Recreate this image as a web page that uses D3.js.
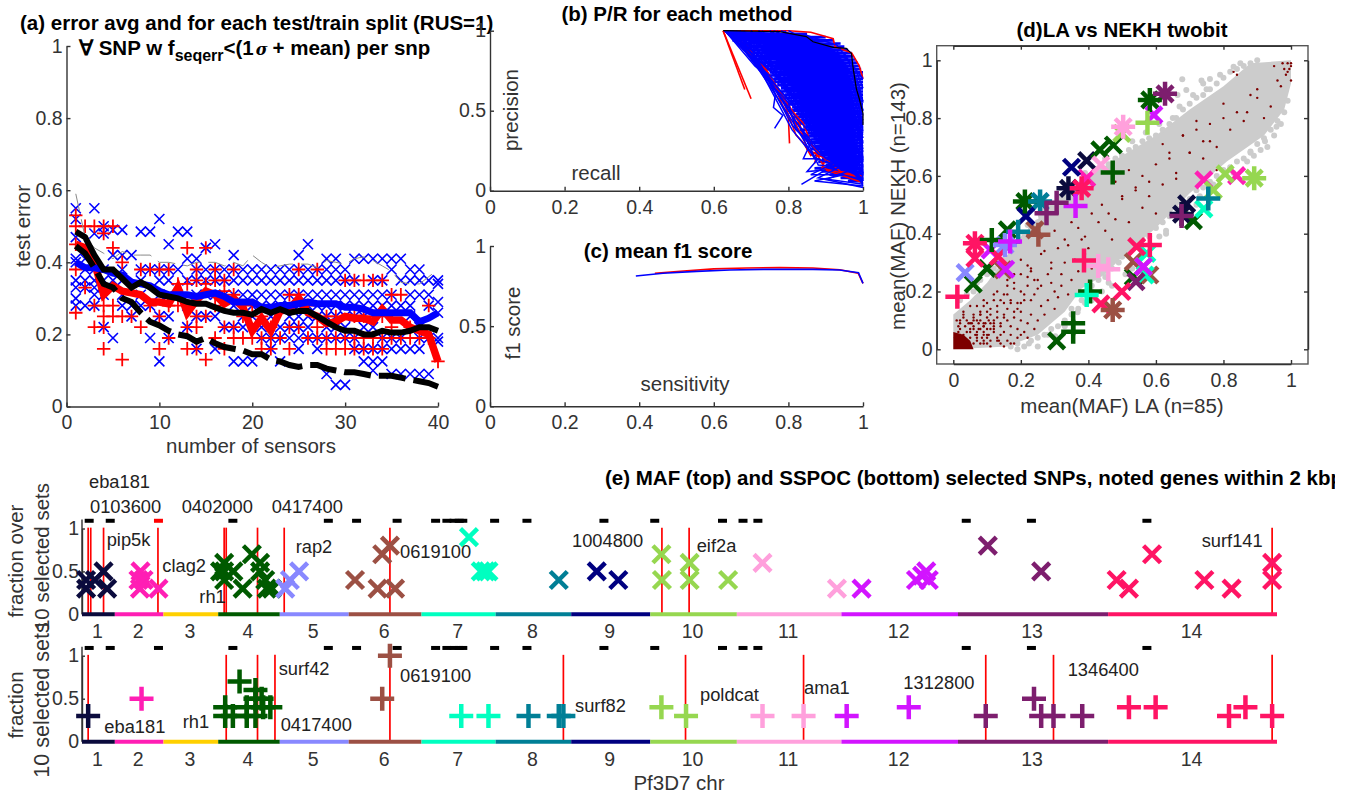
<!DOCTYPE html>
<html>
<head>
<meta charset="utf-8">
<script src="https://cdnjs.cloudflare.com/ajax/libs/d3/7.8.5/d3.min.js"></script>
<style>
body { margin: 0; background: #fff; }
text { font-family: "Liberation Sans", Arial, sans-serif; }
.tk text { font-size: 19.5px; fill: #333; }
.tk line, .tk path { stroke: #333; stroke-width: 1.4; }
</style>
</head>
<body>
<script>
///////////////////////////////////////////////////////////////////
// data

// (a) error per number of sensors, each row of a list is one sensor count
var nSensors = d3.range(1, 41);
var blueErr = [
[.55,.52,.47,.41,.40,.35,.33,.30,.28],[.41,.38,.35,.33,.28],[.55,.48,.38,.35,.33,.31,.28],[.5,.48,.38,.35,.31,.22],
[.49,.42,.35,.19],[.49,.42,.38,.35,.31,.28],[.42,.28,.25],[.485,.38,.35,.31,.28],[.485,.38,.28,.19],[.52,.38,.35,.31,.25,.125],
[.45,.38,.35,.31,.25,.19],[.485,.38,.31],[.485,.41,.35,.28,.22],[.41,.38,.35,.31,.25,.16],[.44,.38,.35,.31,.25],[.45,.38,.35,.31,.25,.16],
[.38,.35,.31,.22],[.42,.38,.35,.31,.28,.22,.125],[.38,.35,.31,.25,.22,.125],[.38,.35,.31,.28,.25,.125],[.38,.35,.31,.28,.22,.19],
[.38,.35,.31,.28,.25,.19,.16],[.38,.35,.31,.28,.22,.19,.125],[.38,.35,.31,.28,.25,.22,.19],[.42,.38,.35,.31,.28,.25,.22,.19,.16],
[.45,.38,.35,.31,.28,.25,.22,.19],[.38,.35,.31,.28,.25,.19,.16],[.41,.38,.35,.31,.28,.25,.22,.19,.09],[.41,.38,.35,.31,.28,.25,.22,.19,.06],
[.38,.35,.31,.28,.25,.22,.19,.06],[.41,.35,.31,.28,.25,.19,.16],[.41,.31,.28,.25,.22,.16,.125],[.41,.35,.31,.28,.22,.16,.125,.1],
[.41,.35,.31,.28,.19,.16,.125],[.41,.38,.31,.28,.19,.16,.09],[.41,.35,.28,.19,.16,.09],[.38,.35,.31,.28,.25,.16,.09],[.38,.35,.31,.22,.19,.16,.09],
[.35,.31,.28,.19,.09],[.35,.34,.29,.26,.19,.18]];
var redErr = [
[.53,.5,.45,.38,.26],[.5,.33],[.5,.28,.22],[.5,.48,.28,.25,.22,.16],[.5,.44,.28,.25],[.4,.25,.13],[.25],[.38,.22],[.38,.28],[.38,.25,.16],
[.38,.28,.19],[.34,.28],[.44,.34,.22,.16],[.38,.35,.25,.22,.16],[.44,.34,.25,.13],[.38,.35,.28,.19],[.35,.32,.22,.16],[.38,.31,.22,.19],[.25,.19],[.28,.19],
[.25,.19,.16],[.22,.19,.16],[.19],[.31,.22,.16],[.38,.31,.22],[.28,.19],[.38,.22,.19],[.25,.19,.16],[.25,.19,.16],[.35,.19,.16],
[.35,.25,.19,.16],[.35,.25,.19,.16],[.35,.25,.19,.16],[.35,.25,.19,.16],[.31,.22,.19],[.31,.19],[.22,.19],[.19],[.28,.19],[.125]];
var redMean = [.45,.44,.40,.31,.335,.32,.315,.31,.29,.29,.285,.33,.26,.295,.32,.31,.285,.30,.275,.21,.245,.21,.265,.27,.30,.26,.25,.23,.235,.25,.245,.245,.235,.27,.24,.24,.22,.21,.20,.125];
var blueMean = [.40,.385,.385,.38,.37,.365,.345,.34,.335,.32,.31,.31,.31,.305,.31,.315,.305,.29,.29,.29,.275,.275,.28,.28,.285,.29,.285,.285,.285,.275,.275,.27,.26,.26,.26,.26,.26,.235,.245,.26];
var blackMean = [.485,.47,.42,.38,.38,.355,.33,.345,.33,.31,.305,.30,.29,.285,.285,.275,.265,.26,.26,.255,.27,.26,.27,.26,.265,.265,.25,.235,.22,.21,.21,.20,.20,.21,.205,.205,.21,.22,.22,.21];
var blackDash = [.445,.425,.385,.34,.33,.30,.29,.26,.235,.225,.21,.20,.195,.18,.19,.175,.165,.16,.155,.145,.145,.13,.125,.115,.11,.115,.115,.105,.10,.095,.095,.09,.085,.085,.085,.08,.075,.07,.065,.055];
var grayTop = [.59,.47,.44,.425,.41,.43,.42,.42,.42,.40,.40,.395,.39,.40,.40,.40,.39,.40,.39,.42,.40,.385,.39,.395,.395,.395,.385,.405,.40,.395,.41,.415,.405,.39,.375,.345,.34,.34,.36,.38];

// (b) precision/recall curves, flat lists of recall,precision
var prRed = [
[.625,1,.683,.633],[.625,1,.70,.575],[.63,1,.75,.72,.80,.45,.803,.296],[.64,1,.78,.6,.82,.35,.84,.3,.86,.22,.88,.25,.87,.17],
[.64,1,.8,1,.86,.99,.92,.95,.925,.9,.97,.86,.99,.78,1,.7],[.66,1,.76,.68,.83,.42,.85,.26,.9,.2,.89,.14,1,.08],
[.65,1,.77,.65,.81,.5,.84,.42,.86,.3,.9,.13,1,.05],[.63,1,.74,.76,.79,.55,.83,.37,.88,.24,.94,.12,1,.09]];
var prFill = [.64,.98,.85,.98,.66,.96,.90,.96,.65,.94,.92,.94,.67,.92,.94,.92,.68,.90,.95,.90,.69,.88,.96,.88,.69,.86,.97,.86,.71,.84,.975,.84,.70,.82,.98,.82,
 .72,.80,.985,.80,.73,.78,.99,.78,.72,.76,.995,.76,.75,.74,1,.74,.745,.72,1,.72,.76,.70,1,.70,.755,.68,1,.68,.77,.66,1,.66,.78,.64,1,.64,.775,.62,1,.62,
 .79,.60,1,.60,.785,.58,1,.58,.80,.56,1,.56,.79,.54,1,.54,.81,.52,1,.52,.80,.50,1,.50,.82,.48,1,.48,.81,.46,1,.46,.83,.44,1,.44,.82,.42,1,.42,.84,.40,1,.40,
 .83,.38,1,.38,.85,.36,1,.36,.84,.34,1,.34,.86,.32,1,.32,.85,.30,1,.30,.87,.28,1,.28,.86,.26,1,.26,.88,.24,1,.24,.87,.22,1,.22,.89,.20,1,.20,.88,.18,1,.18,
 .90,.16,1,.16,.87,.14,1,.14,.89,.12,1,.12,.91,.10,1,.10,.94,.08,1,.08,.96,.06,1,.06];
var prBlue = [
[.63,1,.85,.97,.93,.91,.98,.76,1,.64],[.63,1,.84,.95,.92,.88,.97,.72,1,.56],[.63,1,.83,.94,.91,.86,.97,.68,1,.5],
[.64,1,.82,.92,.9,.83,.96,.66,1,.47],[.63,1,.81,.9,.9,.8,.96,.62,1,.44],[.64,1,.8,.89,.89,.78,.95,.6,1,.42],
[.64,1,.79,.87,.88,.76,.95,.57,1,.39],[.63,1,.78,.86,.88,.73,.94,.55,1,.36],[.65,1,.77,.84,.87,.71,.94,.52,1,.33],
[.63,1,.77,.82,.87,.68,.93,.5,1,.31],[.64,1,.76,.8,.86,.66,.93,.47,1,.29],[.63,1,.76,.78,.86,.63,.92,.46,1,.27],
[.65,1,.75,.78,.85,.61,.92,.43,1,.25],[.63,1,.75,.76,.85,.58,.91,.41,1,.23],[.64,1,.74,.77,.84,.56,.91,.38,1,.21],
[.63,1,.74,.74,.84,.53,.9,.36,1,.19],[.66,1,.74,.72,.83,.5,.9,.33,1,.17],[.63,1,.73,.76,.83,.48,.89,.31,1,.15],
[.64,1,.73,.74,.82,.46,.89,.28,1,.13],[.63,1,.72,.79,.82,.43,.88,.26,1,.12],[.65,1,.72,.8,.81,.41,.88,.23,1,.1],
[.63,1,.71,.82,.81,.38,.87,.21,1,.08],[.67,1,.78,.7,.85,.48,.93,.34,1,.14],[.7,1,.82,.72,.9,.55,.96,.4,1,.3],
[.72,1,.84,.8,.92,.6,.97,.45,1,.35],[.75,1,.86,.86,.93,.7,.98,.5,1,.4],[.76,1,.88,.88,.94,.75,.99,.6,1,.5],
[.78,1,.9,.9,.95,.8,.99,.65,1,.55],[.8,1,.9,.88,.96,.82,1,.7],[.66,1,.8,.62,.88,.42,.94,.22,1,.06],
[.68,1,.79,.66,.86,.4,.92,.26,1,.05],[.7,1,.81,.6,.89,.3,.95,.18,1,.04],[.72,1,.83,.62,.9,.4,.96,.25,1,.03],
[.75,1,.85,.66,.91,.45,.98,.2,1,.11],[.77,1,.86,.7,.93,.5,.98,.3,1,.15],[.79,1,.88,.74,.94,.58,.99,.36,1,.2],
[.8,.96,.89,.68,.95,.44,1,.28],[.82,.93,.91,.72,.97,.5,1,.33],[.84,.92,.93,.66,.98,.42,1,.26],[.86,.9,.95,.7,.99,.52,1,.37],
[.88,.9,.96,.62,1,.3],[.9,.86,.97,.58,1,.24],[.93,.88,.98,.6,1,.18],[.95,.86,.99,.66,1,.1],[.97,.82,.99,.5,1,.06],
[.63,1,.71,.78,.75,.7,.765,.6,.76,.52,.785,.47,.763,.39],[.64,1,.74,.7,.8,.55,.82,.38,.86,.3,.84,.2,.88,.2,.85,.12,.9,.13,.835,.04],
[.65,1,.76,.62,.82,.4,.87,.2,.92,.17,.86,.1,.95,.1,.87,.06,1,.03],[.66,1,.78,.58,.84,.36,.88,.16,.94,.15,.88,.08,1,.04],
[.67,1,.8,.5,.86,.3,.9,.2,.97,.13,.9,.07,1,.02],[.7,1,.84,.44,.9,.25,.96,.16,1,.07],[.73,1,.87,.5,.93,.3,.98,.16,1,.09],
[.76,.98,.9,.52,.94,.36,1,.16],[.78,.96,.91,.6,.96,.32,1,.19],[.74,.9,.88,.6,.95,.38,1,.22]];
var prBlack = [.625,1,.777,.994,.848,.963,.866,.931,.92,.896,.955,.89,.969,.858,.973,.775,.982,.64,.991,.567,1,.483,1,.41];

// (c) mean f1 per sensitivity
var f1RedX = [.442,.51,.6,.6875,.777,.866,.9375,.987,1];
var f1RedY = [.83,.842,.857,.863,.865,.863,.852,.83,.767];
var f1BlueX = [.391,.464,.554,.643,.732,.866,.9375,.988,1];
var f1BlueY = [.813,.83,.842,.85,.854,.854,.85,.834,.767];

// chromosomes
var chrLen = [.64,.947,1.067,1.2,1.343,1.418,1.445,1.472,1.541,1.687,2.038,2.271,2.925,3.291];
var chrColors = ["#0b0b3d","#ff1eb4","#ffd000","#005a00","#8888ff","#9c5044","#00ffc0","#007f96","#000080","#96d750","#ffa0dc","#d214ff","#7d1e6e","#ff1464"];

// (d) LA vs NEKH: dense core outline, scattered points, selected SNPs
var grayCoreX = [0,.05,.1,.2,.3,.4,.5,.6,.7,.8,.88,1,1,.98,.92,.81,.7,.6,.5,.45,.38,.33,.25,.16,0];
var grayCoreY = [.12,.17,.23,.39,.51,.6,.67,.74,.83,.91,.99,1,.92,.83,.74,.65,.54,.42,.32,.26,.21,.13,.05,.01,0];
var grayX = [.02,.04,.06,.08,.1,.12,.15,.17,.19,.21,.23,.25,.27,.29,.31,.33,.36,.38,.4,.42,.44,.46,.48,.5,.52,.54,.56,.58,.6,.62,.64,.66,.68,.7,.72,.74,.76,.78,.8,.82,.84,.86,.88,.9,
 .678,.76,.735,.83,.74,.664,.69,
 .17,.19,.21,.23,.25,.27,.29,.31,.33,.35,.37,.38,.4,.41,.43,.45,.47,.49,.5,.52,.54,.56,.58,.6,.62,.64,.66,.68,.7,.72,.74,.76,.78,.8,.82,.84,.86,.88,.9,.92,.94,.96,.98,
 .302,.25,.224,.19,.35,.368,.41,.957,.923,.88,
 .07,.13,.22,.26,.34,.39,.45,.53,.57,.61,.65,.67,.71,.75,.79,.85,
 .53,.55,.47,.61,.63,.72,.77,.83,.87,.91,.95,.99,.44,.39,.33,.28,
 .41,.46,.51,.56,.63,.69,.73,.89,.93,.97];
var grayY = [.17,.19,.2,.24,.26,.28,.31,.35,.37,.4,.42,.44,.48,.5,.53,.54,.56,.58,.6,.61,.63,.64,.66,.67,.69,.7,.72,.73,.74,.76,.78,.8,.83,.85,.87,.88,.9,.92,.94,.96,.97,.98,.99,1,
 .934,.935,.93,.978,.92,.88,.897,
 .01,.02,.01,.03,.04,.05,.07,.08,.1,.12,.14,.17,.19,.22,.24,.25,.28,.3,.32,.34,.36,.38,.39,.42,.44,.46,.49,.5,.52,.55,.56,.58,.6,.62,.63,.65,.66,.68,.71,.73,.76,.79,.82,
 .045,.01,.02,0,.14,.128,.2,.77,.72,.684,
 .23,.31,.43,.46,.57,.61,.66,.72,.75,.78,.8,.84,.88,.9,.95,.99,
 .28,.31,.22,.39,.41,.5,.57,.61,.65,.69,.74,.86,.2,.16,.08,.05,
 .17,.23,.26,.33,.4,.47,.53,.67,.7,.78];
// the block next to the origin is too dense to list dot by dot
var redCoreX = [0,.06,.05,.03,0];
var redCoreY = [0,0,.03,.05,.06];
var redX = [.09,.1,.11,.12,.13,.14,.15,.16,.17,.18,.09,.1,.12,.13,.14,.15,.17,.19,.2,.21,.08,.09,.11,.12,.13,.15,.16,.18,.2,.22,.02,.03,.05,.06,.07,.08,.1,.11,.02,.04,.05,.07,.09,.1,.12,.14,
 .13,.15,.17,.19,.21,.23,.25,.27,.29,.31,.2,.22,.24,.26,.28,.3,.16,.18,.2,.23,.26,.29,.32,.34,.36,.38,.4,.42,.3,.33,.35,.37,.39,.41,.43,.45,.47,.44,.46,.48,.5,.52,.54,.56,.58,.6,.48,.5,.52,.54,.56,.58,.6,.62,.64,.66,.62,.64,.66,.68,.7,.72,.74,.76,.78,.8,.68,.7,.72,.74,.76,.78,.8,.82,.84,.86,.88,.9,.84,.87,.9,.92,.94,.96,.83,.95,.97,.98,.985,.99,.995,1,1,1,.99,.975,
 .01,.02,.03,.04,.05,.06,.07,.08,.09,.1,.015,.025,.035,.045,.055,.065,.075,.085,.095,.105,.01,.02,.03,.04,.05,.06,.07,.08,.09,.11,.005,.015,.03,.045,.06,.075,.09,.105,.12,.135,
 .06,.08,.1,.12,.14,.16,.18,.2,.22,.24,.07,.09,.11,.13,.15,.17,.19,.21,.23,.25,.03,.05,.08,.1,.12,.14,.16,.18,.2,.22,.06,.07,.09,.11,.13,.15,.17,.19,.03,.04,.16,.18,.2,.22,.24,.26,.28,.3,.32,.34,.23,.25,.27,.29,.31,.33,.35,.37,.39,.41];
var redY = [.02,.05,.03,.07,.04,.02,.06,.03,.05,.02,.09,.11,.1,.13,.09,.12,.08,.07,.1,.06,.12,.15,.14,.17,.11,.16,.14,.11,.13,.09,.1,.12,.09,.11,.1,.13,.07,.09,.05,.03,.07,.06,.08,.04,.06,.05,
 .2,.19,.17,.14,.19,.17,.21,.12,.23,.18,.26,.29,.24,.22,.26,.2,.24,.23,.31,.27,.33,.3,.26,.36,.31,.38,.35,.29,.41,.38,.44,.42,.39,.47,.44,.41,.38,.5,.47,.45,.52,.44,.55,.49,.58,.47,.58,.53,.62,.56,.6,.53,.64,.57,.68,.61,.71,.66,.59,.74,.68,.76,.66,.72,.62,.8,.74,.68,.79,.72,.78,.7,.85,.76,.82,.79,.88,.9,.95,.82,.87,.8,.84,.93,.96,.98,.91,.97,.95,.99,.97,.93,.99,.98,.96,.99,
 .02,.09,.05,.1,.06,.08,.03,.07,.06,.02,.06,.04,.08,.02,.09,.05,.07,.04,.09,.05,.1,.07,.03,.06,.04,.07,.05,.02,.03,.07,.04,.08,.11,.09,.1,.09,.08,.1,.08,.03,
 .12,.1,.13,.09,.08,.1,.13,.05,.04,.07,.15,.17,.12,.15,.11,.16,.16,.17,.12,.1,.13,.15,.12,.16,.19,.17,.19,.21,.2,.22,.02,.04,.05,.01,.03,.01,.02,.04,.02,.01,.22,.26,.16,.25,.19,.15,.17,.14,.22,.19,.28,.24,.34,.28,.35,.3,.24,.27,.33,.28];
var timesX = [.341,.691,.676,.395,.395,.742,.839,.059,.10,.16,.434,.474,.306,.582,.212,.711,.533,.035,.153,.257,.242,.148,.533,.582,.472,.742,.573,.568,.257,.35,.215,.499,.77,.805,.563,.891,.503,.437,.594,.109,.155,.563,.627,.541,.064,.064,.133,.543,.499,.437,.38];
var timesY = [.557,.503,.468,.653,.592,.586,.601,.226,.28,.413,.69,.707,.029,.863,.511,.445,.251,.265,.361,.511,.413,.275,.303,.257,.136,.486,.332,.257,.511,.63,.461,.747,.551,.607,.286,.592,.77,.638,.811,.344,.277,.286,.884,.234,.367,.315,.321,.355,.2,.157,.557];
var timesChr = [1,1,1,1,2,2,2,4,4,4,4,4,4,4,4,4,4,5,5,5,6,6,6,6,6,7,7,7,8,9,9,10,10,10,10,10,11,11,12,12,12,12,13,13,14,14,14,14,14,14,14];
var plusX = [.341,.676,.355,.405,.212,.472,.114,.582,.355,.153,.252,.472,.395,.192,.755,.257,.575,.891,.429,.459,.503,.362,.168,.627,.306,.276,.676,.012,.387,.582,.064,.38];
var plusY = [.557,.468,.09,.2,.511,.612,.378,.863,.061,.361,.396,.136,.188,.407,.522,.511,.784,.592,.288,.277,.77,.496,.373,.884,.507,.471,.461,.182,.307,.361,.367,.557];
var plusChr = [1,1,4,4,4,4,4,4,4,5,6,6,7,8,8,8,10,10,11,11,11,12,12,13,13,13,13,14,14,14,14,14];

// (e) selected SNPs, position along the genome in Mb, fraction of sets
var mafPos = [.08,.08,.25,.42,.49,1.14,1.10,1.20,1.13,1.49,2.77,2.77,2.77,2.69,2.95,3.13,3.31,3.47,3.47,3.57,3.60,3.70,3.96,4.05,4.23,5.32,5.76,6.10,5.85,6.00,7.54,7.77,7.86,7.92,9.29,10.03,10.45,11.29,11.30,11.84,11.84,12.59,13.26,14.71,15.19,16.25,16.45,16.37,16.50,17.65,18.69,20.16,20.40,20.85,21.87,22.40,23.19,23.19];
var mafFrac = [.3,.4,.4,.5,.3,.5,.4,.4,.3,.3,.6,.5,.4,.5,.5,.3,.7,.6,.5,.4,.3,.3,.3,.4,.5,.4,.3,.3,.7,.8,.9,.5,.5,.5,.4,.5,.4,.7,.4,.6,.4,.4,.6,.3,.3,.4,.5,.45,.4,.8,.5,.4,.3,.7,.4,.3,.6,.4];
var mafChr = [1,1,1,1,1,2,2,2,2,2,4,4,4,4,4,4,4,4,4,4,4,4,5,5,5,6,6,6,6,6,7,7,7,7,8,9,9,10,10,10,10,10,11,11,12,12,12,12,12,13,13,14,14,14,14,14,14,14];
var sspocPos = [.12,1.16,2.79,2.79,2.94,3.07,3.21,3.21,3.38,3.38,3.50,3.38,3.67,3.53,5.85,6.0,7.39,7.92,8.70,9.29,9.38,11.29,11.77,13.26,14.06,14.90,16.11,17.61,18.55,18.69,18.93,19.49,20.40,20.92,22.35,22.67,23.19];
var sspocFrac = [.3,.5,.4,.3,.3,.7,.4,.3,.6,.5,.5,.3,.4,.4,.5,1,.3,.3,.3,.3,.3,.4,.3,.3,.3,.3,.4,.3,.5,.3,.3,.3,.4,.4,.3,.4,.3];
var sspocChr = [1,2,4,4,4,4,4,4,4,4,4,4,4,4,6,6,7,7,8,8,8,10,10,11,11,12,12,13,13,13,13,13,14,14,14,14,14];
var mafGenes = [.12,.17,.42,1.48,2.77,2.81,3.42,3.94,6.0,11.30,11.83,23.19];
var sspocGenes = [.12,2.81,3.42,3.76,6.0,9.38,11.76,14.06,17.61,18.93,23.19];
var dashPos = [.14,.55,1.49,2.94,4.80,5.35,6.14,6.89,7.11,7.25,7.35,7.42,8.04,8.67,10.17,11.16,12.48,12.88,13.17,17.23,18.50,20.75];
var mafLabels = [["eba181",89,488],["0103600",90,513],["0402000",181.7,513],["0417400",271.7,513],["pip5k",106.7,546],["clag2",162.3,572],["rh1",199.3,603],["rap2",295.7,553],["0619100",400,558],["1004800",572,547],["eif2a",696.7,552],["surf141",1201.7,547]];
var sspocLabels = [["eba181",104.3,733],["rh1",182.7,728],["surf42",278.7,675],["0417400",280.7,730.7],["0619100",400,681.7],["surf82",575,711.7],["poldcat",700,700.7],["ama1",804,694],["1312800",903.3,689],["1346400",1067.7,676]];

//////////////////////////////////////////////////////////////////
var svg = d3.select("body").append("svg").attr("width", 1352).attr("height", 798);

function pairs(flat) {
	var out = [];
	for (var i = 0; i < flat.length; i += 2) out.push([flat[i], flat[i+1]]);
	return out;
}
function timesPath(a) { return "M"+(-a)+","+(-a)+"L"+a+","+a+"M"+(-a)+","+a+"L"+a+","+(-a); }
function plusPath(a) { return "M"+(-a)+",0L"+a+",0M0,"+(-a)+"L0,"+a; }

function label(txt, x, y, opt) {
	opt = opt || {};
	var t = svg.append("text").attr("x", x).attr("y", y)
		.attr("font-size", opt.size || 20.5)
		.attr("font-weight", opt.bold ? "bold" : "normal")
		.attr("fill", opt.fill || (opt.bold ? "#000" : "#333"))
		.attr("text-anchor", opt.anchor || "start")
		.text(txt);
	if (opt.rot) t.attr("transform", "rotate(-90 " + x + " " + y + ")");
	return t;
}
function drawAxes(xs, ys, xTicks, yTicks, bottomY, leftX) {
	var fmt = function(d) { return d3.format("~g")(d); };
	svg.append("g").attr("class", "tk").attr("transform", "translate(0," + bottomY + ")")
		.call(d3.axisBottom(xs).tickValues(xTicks).tickFormat(fmt).tickSizeInner(-4).tickSizeOuter(0).tickPadding(9));
	svg.append("g").attr("class", "tk").attr("transform", "translate(" + leftX + ",0)")
		.call(d3.axisLeft(ys).tickValues(yTicks).tickFormat(fmt).tickSizeInner(-4).tickSizeOuter(0).tickPadding(4));
}

//////////////////////////////////////////////////////////////////
// (a)
var ax = d3.scaleLinear().domain([0, 40]).range([66.5, 438]);
var ay = d3.scaleLinear().domain([0, 1]).range([406.5, 46]);
drawAxes(ax, ay, [0,10,20,30,40], [0,.2,.4,.6,.8,1], 406.5, 66.5);

nSensors.forEach(function(n, i) {
	svg.append("g").selectAll("path").data(blueErr[i]).enter().append("path")
		.attr("d", timesPath(5)).attr("stroke", "#00f").attr("stroke-width", 1.6).attr("fill", "none")
		.attr("transform", function(d) { return "translate(" + ax(n) + "," + ay(d) + ")"; });
});
nSensors.forEach(function(n, i) {
	svg.append("g").selectAll("path").data(redErr[i]).enter().append("path")
		.attr("d", plusPath(6.7)).attr("stroke", "#f00").attr("stroke-width", 1.8).attr("fill", "none")
		.attr("transform", function(d) { return "translate(" + ax(n) + "," + ay(d) + ")"; });
});
var meanLine = d3.line().x(function(d, i) { return ax(nSensors[i]); }).y(function(d) { return ay(d); });
svg.append("path").attr("d", meanLine(grayTop)).attr("fill", "none").attr("stroke", "#888").attr("stroke-width", 1).attr("stroke-dasharray", "18,8");
svg.append("path").attr("d", meanLine(redMean)).attr("fill", "none").attr("stroke", "#f00").attr("stroke-width", 7.5);
svg.append("path").attr("d", meanLine(blueMean)).attr("fill", "none").attr("stroke", "#00f").attr("stroke-width", 7);
svg.append("path").attr("d", meanLine(blackMean)).attr("fill", "none").attr("stroke", "#000").attr("stroke-width", 6);
svg.append("path").attr("d", meanLine(blackDash)).attr("fill", "none").attr("stroke", "#000").attr("stroke-width", 6).attr("stroke-dasharray", "27,8");

label("(a) error avg and for each test/train split (RUS=1)", 20, 30, {bold: true});
var t2 = label("\u2200 SNP w f", 79, 55, {bold: true});
t2.append("tspan").attr("dy", 6).attr("font-size", 16).text("seqerr");
t2.append("tspan").attr("dy", -6).text("<(1");
t2.append("tspan").attr("font-style", "italic").attr("font-family", "DejaVu Serif").attr("font-size", 16).attr("dx", 2).text("\u03c3");
t2.append("tspan").attr("dx", 5).text("+ mean) per snp");
label("test error", 30, 226, {rot: true, anchor: "middle"});
label("number of sensors", 251, 453, {anchor: "middle"});

//////////////////////////////////////////////////////////////////
// (b)
var bx = d3.scaleLinear().domain([0, 1]).range([490, 863]);
var by = d3.scaleLinear().domain([0, 1]).range([190.7, 30.7]);
drawAxes(bx, by, [0,.2,.4,.6,.8,1], [0,.5,1], 190.7, 490);
var prLine = d3.line().x(function(d) { return bx(d[0]); }).y(function(d) { return by(d[1]); });
svg.append("path").attr("d", prLine(pairs(prFill))).attr("fill", "none").attr("stroke", "#00f").attr("stroke-width", 2.7);
prRed.forEach(function(c) {
	svg.append("path").attr("d", prLine(pairs(c))).attr("fill", "none").attr("stroke", "#f00").attr("stroke-width", 1.6);
});
prBlue.forEach(function(c) {
	svg.append("path").attr("d", prLine(pairs(c))).attr("fill", "none").attr("stroke", "#00f").attr("stroke-width", 1.5);
});
svg.append("path").attr("d", prLine(pairs(prBlack))).attr("fill", "none").attr("stroke", "#000").attr("stroke-width", 1.2);
label("(b) P/R for each method", 677, 21, {bold: true, anchor: "middle"});
label("precision", 518, 110, {rot: true, anchor: "middle"});
label("recall", 596, 180, {anchor: "middle"});

//////////////////////////////////////////////////////////////////
// (c)
var cy = d3.scaleLinear().domain([0, 1]).range([406.3, 246]);
drawAxes(bx, cy, [0,.2,.4,.6,.8,1], [0,.5,1], 406.3, 490);
var f1Line = d3.line().x(function(d) { return bx(d[0]); }).y(function(d) { return cy(d[1]); });
svg.append("path").attr("d", f1Line(d3.zip(f1RedX, f1RedY))).attr("fill", "none").attr("stroke", "#f00").attr("stroke-width", 1.6);
svg.append("path").attr("d", f1Line(d3.zip(f1BlueX, f1BlueY))).attr("fill", "none").attr("stroke", "#00f").attr("stroke-width", 1.6);
label("(c) mean f1 score", 668, 258, {bold: true, anchor: "middle"});
label("f1 score", 520, 323, {rot: true, anchor: "middle"});
label("sensitivity", 685, 391, {anchor: "middle"});

//////////////////////////////////////////////////////////////////
// (d)
var dx = d3.scaleLinear().domain([0, 1]).range([953.3, 1291]);
var dy = d3.scaleLinear().domain([0, 1]).range([349.3, 60.3]);
var dLine = d3.line().x(function(d) { return dx(d[0]); }).y(function(d) { return dy(d[1]); });
svg.append("path").attr("d", dLine(d3.zip(grayCoreX, grayCoreY)) + "Z").attr("fill", "#ccc");
svg.append("g").selectAll("circle").data(d3.zip(grayX, grayY)).enter().append("circle")
	.attr("cx", function(d) { return dx(d[0]); }).attr("cy", function(d) { return dy(d[1]); })
	.attr("r", 3).attr("fill", "#ccc");
svg.append("path").attr("d", dLine(d3.zip(redCoreX, redCoreY)) + "Z").attr("fill", "#7d0000");
svg.append("g").selectAll("circle").data(d3.zip(redX, redY)).enter().append("circle")
	.attr("cx", function(d) { return dx(d[0]); }).attr("cy", function(d) { return dy(d[1]); })
	.attr("r", 1.2).attr("fill", "#7d0000");
svg.append("g").selectAll("path").data(d3.zip(timesX, timesY, timesChr)).enter().append("path")
	.attr("d", timesPath(8)).attr("fill", "none").attr("stroke-width", 4.5)
	.attr("stroke", function(d) { return chrColors[d[2]-1]; })
	.attr("transform", function(d) { return "translate(" + dx(d[0]) + "," + dy(d[1]) + ")"; });
svg.append("g").selectAll("path").data(d3.zip(plusX, plusY, plusChr)).enter().append("path")
	.attr("d", plusPath(12)).attr("fill", "none").attr("stroke-width", 4.5)
	.attr("stroke", function(d) { return chrColors[d[2]-1]; })
	.attr("transform", function(d) { return "translate(" + dx(d[0]) + "," + dy(d[1]) + ")"; });

svg.append("rect").attr("x", 936.7).attr("y", 45.7).attr("width", 371.3).attr("height", 318.3).attr("fill", "none").attr("stroke", "#555").attr("stroke-width", 1.4);
var dTicks = [0,.2,.4,.6,.8,1];
var dFmt = function(d) { return d3.format("~g")(d); };
svg.append("g").attr("class", "tk").attr("transform", "translate(0,364)")
	.call(d3.axisBottom(dx).tickValues(dTicks).tickFormat(dFmt).tickSizeInner(-4).tickSizeOuter(0).tickPadding(9));
svg.append("g").attr("class", "tk").attr("transform", "translate(936.7,0)")
	.call(d3.axisLeft(dy).tickValues(dTicks).tickFormat(dFmt).tickSizeInner(-4).tickSizeOuter(0).tickPadding(4));
svg.append("g").attr("class", "tk").attr("transform", "translate(0,45.7)")
	.call(d3.axisTop(dx).tickValues(dTicks).tickFormat("").tickSizeInner(-4).tickSizeOuter(0));
svg.append("g").attr("class", "tk").attr("transform", "translate(1308,0)")
	.call(d3.axisRight(dy).tickValues(dTicks).tickFormat("").tickSizeInner(-4).tickSizeOuter(0));
label("(d)LA vs NEKH twobit", 1122, 37, {bold: true, anchor: "middle"});
label("mean(MAF) LA (n=85)", 1122, 413, {anchor: "middle"});
label("mean(MAF) NEKH (n=143)", 905, 206, {rot: true, anchor: "middle"});

//////////////////////////////////////////////////////////////////
// (e)
var ex = d3.scaleLinear().domain([0, d3.sum(chrLen)]).range([82, 1277]);
var chrEnds = Array.from(d3.cumsum(chrLen));
var chrBars = chrLen.map(function(d, i) { return {chr: i, a: chrEnds[i] - d, b: chrEnds[i]}; });
var chrCenters = chrBars.map(function(d) { return (d.a + d.b) / 2; });

function genePanel(y0, y1, pos, frac, chr, genes, marker, isTop) {
	var ys = d3.scaleLinear().domain([0, 1]).range([y0, y1]);
	svg.append("g").attr("class", "tk").attr("transform", "translate(82,0)")
		.call(d3.axisLeft(ys).tickValues([0,.5,1]).tickFormat(dFmt).tickSizeInner(-3).tickSizeOuter(0).tickPadding(3));
	svg.append("line").attr("x1", 82).attr("x2", 82).attr("y1", y1 - 9).attr("y2", y0).attr("stroke", "#333").attr("stroke-width", 1.4);
	svg.append("g").selectAll("rect").data(genes).enter().append("line")
		.attr("x1", function(d) { return ex(d); }).attr("x2", function(d) { return ex(d); })
		.attr("y1", ys(1.01)).attr("y2", ys(0)).attr("stroke", "#f00").attr("stroke-width", 1.7);
	svg.append("g").selectAll("line").data(chrBars).enter().append("line")
		.attr("x1", function(d) { return ex(d.a); }).attr("x2", function(d) { return ex(d.b); })
		.attr("y1", y0).attr("y2", y0).attr("stroke-width", 4)
		.attr("stroke", function(d) { return chrColors[d.chr]; });
	svg.append("g").selectAll("line").data(dashPos).enter().append("line")
		.attr("x1", function(d) { return ex(d) - 4.5; }).attr("x2", function(d) { return ex(d) + 4.5; })
		.attr("y1", ys(1.09)).attr("y2", ys(1.09)).attr("stroke-width", 4)
		.attr("stroke", function(d) { return (isTop && d == 1.49) ? "#f00" : "#000"; });
	svg.append("g").selectAll("path").data(d3.zip(pos, frac, chr)).enter().append("path")
		.attr("d", marker).attr("fill", "none").attr("stroke-width", 4.5)
		.attr("stroke", function(d) { return chrColors[d[2]-1]; })
		.attr("transform", function(d) { return "translate(" + ex(d[0]) + "," + ys(d[1]) + ")"; });
	var xaxis = svg.append("g").attr("class", "tk").attr("transform", "translate(0," + y0 + ")")
		.call(d3.axisBottom(ex).tickValues(chrCenters).tickFormat(function(d, i) { return i + 1; }).tickSize(0).tickPadding(10));
	xaxis.select(".domain").remove();
	xaxis.selectAll("text").attr("dx", -1.5);
}
genePanel(614.3, 528.5, mafPos, mafFrac, mafChr, mafGenes, timesPath(8.5), true);
genePanel(741.7, 655.7, sspocPos, sspocFrac, sspocChr, sspocGenes, plusPath(12), false);

mafLabels.concat(sspocLabels).forEach(function(d) { label(d[0], d[1], d[2], {size: 18.3, fill: "#222"}); });

svg.append("clipPath").attr("id", "eclip").append("rect").attr("x", 0).attr("y", 460).attr("width", 1335).attr("height", 40);
label("(e) MAF (top) and SSPOC (bottom) selected SNPs, noted genes within 2 kbp", 605, 485, {bold: true}).attr("clip-path", "url(#eclip)");
label("fraction over", 23, 561, {rot: true, anchor: "middle"});
label("10 selected sets", 49, 557, {rot: true, anchor: "middle"});
label("fraction", 23, 705, {rot: true, anchor: "middle"});
label("10 selected sets", 49, 700, {rot: true, anchor: "middle", size: 21.5});
label("Pf3D7 chr", 679, 790, {anchor: "middle"});
</script>
</body>
</html>
